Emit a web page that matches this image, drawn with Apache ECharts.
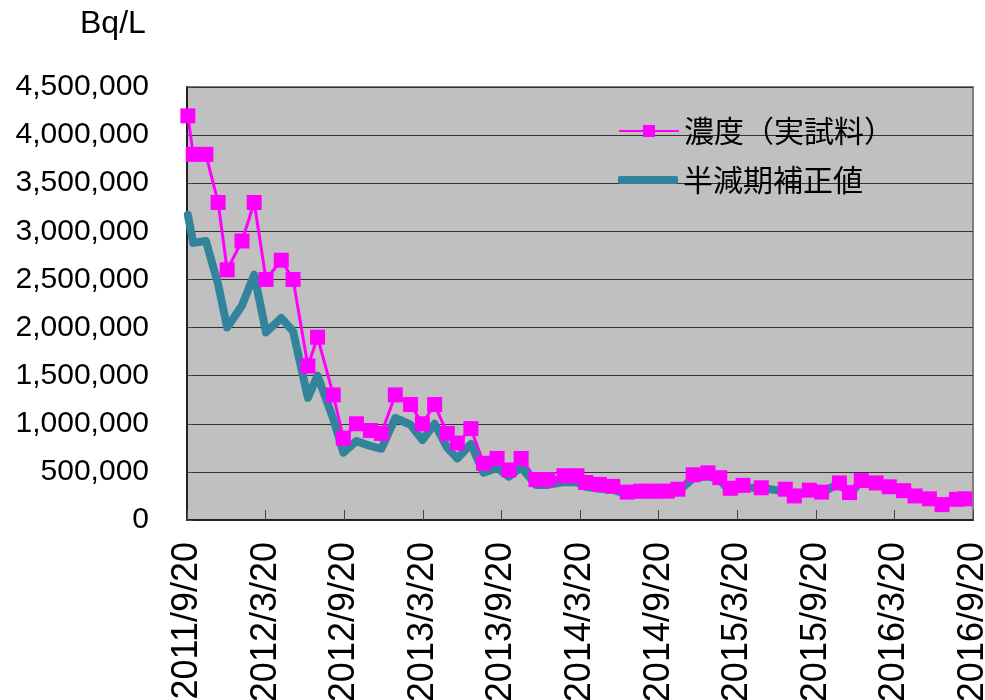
<!DOCTYPE html>
<html>
<head>
<meta charset="utf-8">
<script src="https://cdn.jsdelivr.net/npm/echarts@6/dist/echarts.min.js"></script>
<style>
  html, body { margin: 0; padding: 0; background: #fff; }
  #main { width: 985px; height: 700px; }
</style>
</head>
<body>
<div id="main"></div>
<script>
// sampling dates
var dates = [
  '2011/9/22', '2011/10/4', '2011/11/3', '2011/12/1', '2011/12/22', '2012/1/26', '2012/2/24', '2012/3/21', '2012/4/26', '2012/5/23',
  '2012/6/27', '2012/7/19', '2012/8/25', '2012/9/18', '2012/10/18', '2012/11/20', '2012/12/15', '2013/1/17', '2013/2/22', '2013/3/19',
  '2013/4/17', '2013/5/16', '2013/6/9', '2013/7/10', '2013/8/9', '2013/9/10', '2013/10/7', '2013/11/5', '2013/12/9', '2014/1/6',
  '2014/2/13', '2014/3/13', '2014/4/3', '2014/5/4', '2014/6/5', '2014/7/8', '2014/8/9', '2014/9/9', '2014/10/10', '2014/11/4',
  '2014/12/9', '2015/1/13', '2015/2/10', '2015/3/4', '2015/4/3', '2015/5/15', '2015/7/10', '2015/7/31', '2015/9/5', '2015/10/3',
  '2015/11/14', '2015/12/7', '2016/1/4', '2016/2/8', '2016/3/8', '2016/4/11', '2016/5/7', '2016/6/10', '2016/7/9', '2016/8/12', '2016/9/1'
];
// 濃度(実試料)
var measured = [
  4200000, 3800000, 3800000, 3300000, 2600000, 2900000, 3300000, 2500000, 2700000, 2500000,
  1600000, 1900000, 1300000, 850000, 1000000, 930000, 900000, 1300000, 1200000, 1000000,
  1200000, 900000, 800000, 950000, 590000, 640000, 520000, 640000, 420000, 420000,
  460000, 460000, 390000, 370000, 350000, 290000, 300000, 300000, 300000, 320000,
  470000, 490000, 440000, 330000, 360000, 335000, 320000, 250000, 310000, 290000,
  385000, 285000, 410000, 385000, 345000, 305000, 250000, 220000, 160000, 215000, 220000
];
// 半減期補正値
var corrected = [
  3170000, 2880000, 2900000, 2450000, 2000000, 2230000, 2550000, 1950000, 2100000, 1960000,
  1270000, 1500000, 1050000, 700000, 820000, 770000, 740000, 1060000, 990000, 830000,
  1000000, 750000, 640000, 790000, 490000, 540000, 450000, 550000, 365000, 365000,
  395000, 390000, 345000, 325000, 315000, 265000, 265000, 265000, 270000, 295000,
  435000, 455000, 415000, 295000, 335000, 335000, 295000, 260000, 300000, 280000,
  385000, 260000, 410000, 375000, 345000, 305000, 245000, 225000, 155000, 215000, 235000
];
var xTickLabels = ['2011/9/20', '2012/3/20', '2012/9/20', '2013/3/20', '2013/9/20', '2014/3/20',
  '2014/9/20', '2015/3/20', '2015/9/20', '2016/3/20', '2016/9/20'];

// months since 2011/9/20
function toMonth(s) {
  var p = s.split('/').map(Number);
  return (p[0] - 2011) * 12 + (p[1] - 9) + (p[2] - 20) / 30.44;
}
function commas(v) {
  return String(v).replace(/\B(?=(\d{3})+(?!\d))/g, ',');
}

var chart = echarts.init(document.getElementById('main'));
var numFont = 'Liberation Sans, Arial, sans-serif';
var jpFont = 'Noto Sans CJK JP, sans-serif';
var pink = '#FF00FF';
var teal = '#31849B';
var legendText = { fontFamily: jpFont, fontSize: 30, color: '#000', lineHeight: 30 };

var option = {
  animation: false,
  backgroundColor: '#fff',
  grid: {
    left: 187, right: 12, top: 87, bottom: 180,
    outerBoundsMode: 'none',
    show: true,
    backgroundColor: '#C0C0C0',
    borderColor: '#808080',
    borderWidth: 2
  },
  graphic: [{
    type: 'text', left: 80, top: 8,
    style: { text: 'Bq/L', font: '32px ' + numFont, fill: '#000' }
  }],
  legend: [
    {
      left: 613, top: 111,
      itemWidth: 60, itemHeight: 15,
      textStyle: legendText,
      data: ['濃度（実試料）']
    },
    {
      left: 613, top: 160,
      itemWidth: 60, itemHeight: 8,
      textStyle: legendText,
      data: [{ name: '半減期補正値', icon: 'roundRect' }]
    }
  ],
  xAxis: {
    type: 'value',
    min: 0, max: 60, interval: 6,
    axisLine: { show: true, lineStyle: { color: '#222', width: 2 } },
    axisTick: { show: true, inside: true, length: 10, lineStyle: { color: '#444', width: 1 } },
    splitLine: { show: false },
    axisLabel: {
      rotate: 90, margin: 22,
      fontFamily: numFont, fontSize: 36, color: '#000',
      formatter: function (v) { return xTickLabels[Math.round(v / 6)]; }
    }
  },
  yAxis: {
    type: 'value',
    min: 0, max: 4500000, interval: 500000,
    axisLine: { show: true, lineStyle: { color: '#222', width: 2 } },
    axisTick: { show: true, inside: true, length: 6, lineStyle: { color: '#444' } },
    splitLine: { show: true, lineStyle: { color: '#333', width: 1 } },
    axisLabel: {
      margin: 38,
      fontFamily: numFont, fontSize: 30, color: '#000',
      formatter: function (v) { return commas(v); }
    }
  },
  series: [
    {
      name: '濃度（実試料）',
      type: 'line',
      symbol: 'rect', symbolSize: 15,
      itemStyle: { color: pink },
      lineStyle: { color: pink, width: 3 },
      data: dates.map(function (d, i) { return [toMonth(d), measured[i]]; })
    },
    {
      name: '半減期補正値',
      type: 'line',
      symbol: 'none',
      itemStyle: { color: teal },
      lineStyle: { color: teal, width: 8, cap: 'round', join: 'round' },
      data: dates.map(function (d, i) { return [toMonth(d), corrected[i]]; })
    }
  ]
};

chart.setOption(option);
</script>
</body>
</html>
